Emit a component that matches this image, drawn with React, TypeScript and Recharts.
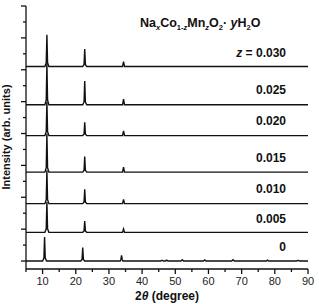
import { Line, LineChart, XAxis, YAxis } from "recharts";

// 2θ ticks (major every 10°, minor every 5°)
const xTicks = [5, 10, 15, 20, 25, 30, 35, 40, 45, 50, 55, 60, 65, 70, 75, 80, 85, 90];
const yTicks = [0, 1, 2, 3, 4, 5, 6, 7, 8, 9, 10, 11, 12, 13, 14, 15, 16];

const labels = ["z = 0.030", "0.025", "0.020", "0.015", "0.010", "0.005", "0"];
const offsets = [12.2, 9.8, 7.87, 5.58, 3.6, 1.8, 0];

// [2θ, intensity], baseline at 0
const z030: [number, number][] = [
  [5, 0], [10.7, 0], [11.1, 0.24], [11.3, 2.0], [11.5, 0.24], [11.9, 0],
  [22.1, 0], [22.5, 0.13], [22.7, 1.1], [22.9, 0.13], [23.3, 0],
  [34.1, 0], [34.4, 0.31], [34.7, 0], [90, 0],
];
const z025: [number, number][] = [
  [5, 0], [10.7, 0], [11.1, 0.3], [11.3, 2.6], [11.5, 0.3], [11.9, 0],
  [22.1, 0], [22.5, 0.18], [22.7, 1.5], [22.9, 0.18], [23.3, 0],
  [34.1, 0], [34.4, 0.36], [34.7, 0], [90, 0],
];
const z020: [number, number][] = [
  [5, 0], [10.7, 0], [11.1, 0.25], [11.3, 2.1], [11.5, 0.25], [11.9, 0],
  [22.1, 0], [22.5, 0.1], [22.7, 0.84], [22.9, 0.1], [23.3, 0],
  [34.1, 0], [34.4, 0.29], [34.7, 0], [90, 0],
];
const z015: [number, number][] = [
  [5, 0], [10.7, 0], [11.1, 0.28], [11.3, 2.4], [11.5, 0.28], [11.9, 0],
  [22.1, 0], [22.5, 0.12], [22.7, 0.98], [22.9, 0.12], [23.3, 0],
  [34.1, 0], [34.4, 0.31], [34.7, 0], [90, 0],
];
const z010: [number, number][] = [
  [5, 0], [10.7, 0], [11.1, 0.25], [11.3, 2.1], [11.5, 0.25], [11.9, 0],
  [22.1, 0], [22.5, 0.11], [22.7, 0.9], [22.9, 0.11], [23.3, 0],
  [34.1, 0], [34.4, 0.27], [34.7, 0], [90, 0],
];
const z005: [number, number][] = [
  [5, 0], [10.7, 0], [11.1, 0.22], [11.3, 1.9], [11.5, 0.22], [11.9, 0],
  [22.1, 0], [22.5, 0.09], [22.7, 0.71], [22.9, 0.09], [23.3, 0],
  [34.1, 0], [34.4, 0.21], [34.7, 0], [90, 0],
];
const z000: [number, number][] = [
  [5, 0], [10.0, 0], [10.4, 0.18], [10.6, 1.5], [10.8, 0.18], [11.2, 0],
  [21.5, 0], [21.9, 0.1], [22.1, 0.84], [22.3, 0.1], [22.7, 0],
  [33.4, 0], [33.6, 0.1], [33.8, 0.36], [34.0, 0.1], [34.2, 0],
  [45.6, 0], [46.0, 0.05], [46.4, 0],
  [47.0, 0], [47.4, 0.06], [47.8, 0],
  [51.7, 0], [52.1, 0.08], [52.5, 0],
  [58.5, 0], [58.9, 0.07], [59.3, 0],
  [67.0, 0], [67.4, 0.08], [67.8, 0],
  [77.4, 0], [77.8, 0.06], [78.2, 0],
  [86.6, 0], [87.0, 0.05], [87.4, 0], [90, 0],
];

const series = [z030, z025, z020, z015, z010, z005, z000];

const ink = "#111";
const font = "'Liberation Sans', Arial, sans-serif";

function BottomTick(props: any) {
  const { x, y, payload } = props;
  const major = payload.value % 10 === 0;
  return (
    <g>
      <line x1={x} x2={x} y1={y} y2={y + (major ? 5 : 3)} stroke={ink} strokeWidth={1.3} />
      {major && (
        <text x={x} y={y + 16} textAnchor="middle" fontSize={11} fontFamily={font} fill="#222">
          {payload.value}
        </text>
      )}
    </g>
  );
}

function TopTick(props: any) {
  const { x, y, payload } = props;
  const major = payload.value % 10 === 0;
  return <line x1={x} x2={x} y1={y} y2={y + (major ? 5 : 3)} stroke={ink} strokeWidth={1.3} />;
}

function LeftTick(props: any) {
  const { x, y, payload } = props;
  const major = payload.value % 2 === 0;
  return <line x1={x} x2={x - (major ? 5 : 3)} y1={y} y2={y} stroke={ink} strokeWidth={1.3} />;
}

function RightTick(props: any) {
  const { x, y, payload } = props;
  const major = payload.value % 2 === 0;
  return <line x1={x} x2={x - (major ? 5 : 3)} y1={y} y2={y} stroke={ink} strokeWidth={1.3} />;
}

const labelY = [56.5, 94, 125, 161.5, 193, 223, 251];

export default function App() {
  return (
    <div style={{ position: "absolute", left: 0, top: 0, width: 319, height: 304, background: "#fff" }}>
      <LineChart width={319} height={304} margin={{ top: 6, right: 11, bottom: 0, left: 0 }}>
        <XAxis
          type="number"
          dataKey="x"
          domain={[5, 90]}
          ticks={xTicks}
          interval={0}
          height={35}
          tickSize={0}
          tickMargin={0}
          tickLine={false}
          tick={BottomTick}
          axisLine={{ stroke: ink, strokeWidth: 1.3 }}
          allowDataOverflow
        />
        <XAxis
          xAxisId="top"
          orientation="top"
          type="number"
          domain={[5, 90]}
          ticks={xTicks}
          interval={0}
          height={0}
          tickSize={0}
          tickMargin={0}
          tickLine={false}
          tick={TopTick}
          axisLine={{ stroke: ink, strokeWidth: 1.3 }}
        />
        <YAxis
          type="number"
          domain={[-0.5, 16]}
          ticks={yTicks}
          interval={0}
          width={26}
          tickSize={0}
          tickMargin={0}
          tickLine={false}
          tick={LeftTick}
          axisLine={{ stroke: ink, strokeWidth: 1.3 }}
          allowDataOverflow
        />
        <YAxis
          yAxisId="right"
          orientation="right"
          type="number"
          domain={[-0.5, 16]}
          ticks={yTicks}
          interval={0}
          width={0}
          tickSize={0}
          tickMargin={0}
          tickLine={false}
          tick={RightTick}
          axisLine={{ stroke: ink, strokeWidth: 1.3 }}
        />
        {series.map((s, i) => (
          <Line
            key={labels[i]}
            data={s.map(([x, v]) => ({ x, y: v + offsets[i] }))}
            dataKey="y"
            type="linear"
            stroke={ink}
            strokeWidth={1.4}
            dot={false}
            activeDot={false}
            isAnimationActive={false}
          />
        ))}
      </LineChart>
      <svg
        width={319}
        height={304}
        style={{ position: "absolute", left: 0, top: 0, pointerEvents: "none" }}
        fontFamily={font}
        fontWeight="bold"
        fill={ink}
      >
        <text x={140} y={27} fontSize={12.5}>
          <tspan>Na</tspan>
          <tspan dy={3} fontSize={7.5} fontStyle="italic">x</tspan>
          <tspan dy={-3}>Co</tspan>
          <tspan dy={3} fontSize={7.5}>1-</tspan>
          <tspan fontSize={7.5} fontStyle="italic">z</tspan>
          <tspan dy={-3}>Mn</tspan>
          <tspan dy={3} fontSize={7.5} fontStyle="italic">z</tspan>
          <tspan dy={-3}>O</tspan>
          <tspan dy={3} fontSize={7.5}>2</tspan>
          <tspan dy={-3}>·</tspan>
          <tspan fontStyle="italic"> y</tspan>
          <tspan>H</tspan>
          <tspan dy={3} fontSize={7.5}>2</tspan>
          <tspan dy={-3}>O</tspan>
        </text>
        {labels.map((l, i) => (
          <text key={l} x={286} y={labelY[i]} fontSize={12} textAnchor="end">
            {i === 0 ? (
              <>
                <tspan fontStyle="italic">z</tspan>
                <tspan> = 0.030</tspan>
              </>
            ) : (
              l
            )}
          </text>
        ))}
        <text x={167} y={300} fontSize={12} textAnchor="middle">
          <tspan>2</tspan>
          <tspan fontStyle="italic">θ</tspan>
          <tspan> (degree)</tspan>
        </text>
        <text x={10} y={137} fontSize={11} textAnchor="middle" transform="rotate(-90 10 137)">
          Intensity (arb. units)
        </text>
      </svg>
    </div>
  );
}
